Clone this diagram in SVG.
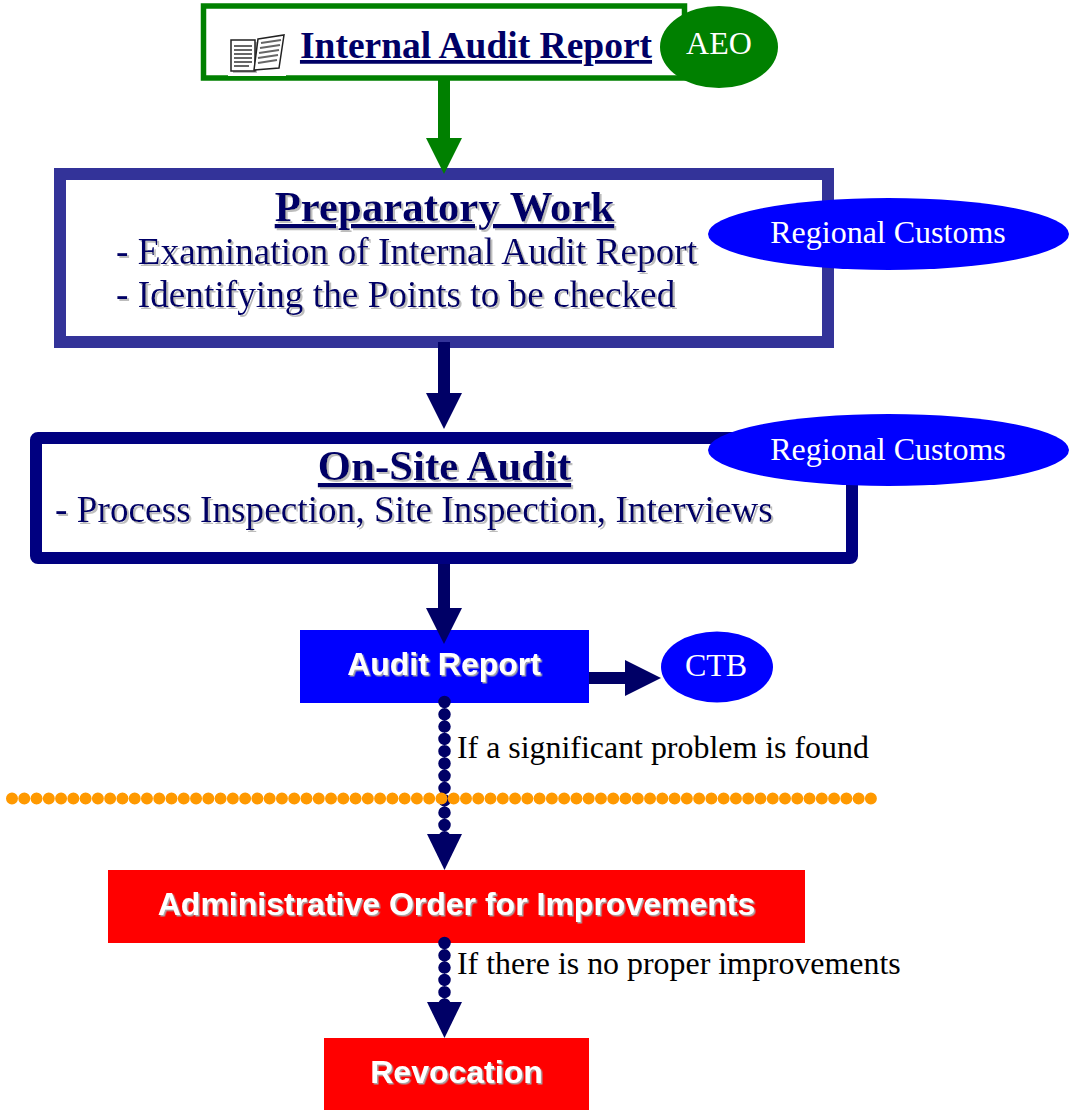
<svg xmlns="http://www.w3.org/2000/svg" width="1070" height="1110" viewBox="0 0 1070 1110">
<defs>
<filter id="shadow" x="-5%" y="-20%" width="110%" height="140%"><feDropShadow dx="2" dy="2" stdDeviation="0.5" flood-color="#bdbdbd" flood-opacity="1"/></filter>
<filter id="glow" x="-5%" y="-20%" width="110%" height="140%"><feDropShadow dx="1.500" dy="1.500" stdDeviation="0.5" flood-color="#a8a8a8" flood-opacity="1"/></filter>
<marker id="headGreen" markerUnits="userSpaceOnUse" markerWidth="36" markerHeight="36" refX="0" refY="18" orient="auto"><path d="M0 0L36 18L0 36Z" fill="#008000"/></marker>
<marker id="headNavy" markerUnits="userSpaceOnUse" markerWidth="37" markerHeight="36" refX="0" refY="18" orient="auto"><path d="M0 0L36 18L0 36Z" fill="#000066"/></marker>
</defs>
<style>
text{font-family:"Liberation Serif","Times New Roman",serif}
.h{font-weight:700;font-size:42.800px;fill:#000066;text-anchor:middle;text-decoration:underline;filter:url(#shadow)}
.b{font-size:37.300px;fill:#000066;filter:url(#shadow)}
.w{font-size:32px;fill:#fff;text-anchor:middle}
.s{font-family:"Liberation Sans",Arial,sans-serif;font-weight:700;font-size:32px;fill:#fff;text-anchor:middle;filter:url(#glow)}
.l{font-size:31.900px;fill:#000}
.a{fill:none;stroke:#000066;stroke-width:12}
.d{fill:none;stroke:#000066;stroke-width:12.500;stroke-linecap:round;stroke-dasharray:0 12.3}
.i{fill:#fff;stroke:#222;stroke-width:1.500}
.r{stroke:#666;stroke-width:2}
</style>
<g id="internal-audit-report">
<rect x="203.500" y="6" width="481" height="72" fill="#fff" stroke="#008000" stroke-width="5.500"/>
<rect x="228" y="32" width="58" height="44" fill="#fff"/>
<path d="M233 42H257V73H233Z" fill="#bbb"/>
<path class="i" d="M231 40H255V71H231Z"/>
<path class="i" d="M258 39L284 35L279 68L254 70Z"/>
<path class="r" d="M234 46H252M234 50H252M234 54H252M234 58H252M234 62H252M234 66H249M261 43L281 40M260 48L280 45M259 53L279 50M258 58L278 55M258 63L277 60"/>
<text class="h" style="font-size:37.500px;filter:none" x="476" y="58">Internal Audit Report</text>
</g>
<g id="aeo">
<ellipse cx="719" cy="47" rx="59" ry="41" fill="#008000"/>
<text class="w" x="719" y="54">AEO</text>
</g>
<g id="preparatory-work">
<rect x="60" y="174" width="768" height="168" fill="#fff" stroke="#333399" stroke-width="12"/>
<text class="h" x="444.500" y="221">Preparatory Work</text>
<text class="b" x="116" y="264">- Examination of Internal Audit Report</text>
<text class="b" x="116" y="307">- Identifying the Points to be checked</text>
</g>
<g id="regional-customs-1">
<ellipse cx="888.500" cy="234" rx="180.500" ry="36" fill="#0000ff"/>
<text class="w" x="888" y="243">Regional Customs</text>
</g>
<g id="on-site-audit">
<rect x="36" y="438" width="816" height="120" rx="2" fill="#fff" stroke="#000080" stroke-width="12" stroke-linejoin="round"/>
<text class="h" x="444.500" y="480">On-Site Audit</text>
<text class="b" x="55" y="522">- Process Inspection, Site Inspection, Interviews</text>
</g>
<g id="regional-customs-2">
<ellipse cx="888.500" cy="450" rx="180.500" ry="36" fill="#0000ff"/>
<text class="w" x="888" y="460">Regional Customs</text>
</g>
<g id="audit-report">
<rect x="300" y="630" width="289" height="73" fill="#0000ff"/>
<text class="s" x="444" y="675">Audit Report</text>
</g>
<g id="ctb">
<ellipse cx="717" cy="667" rx="56" ry="35.500" fill="#0000ff"/>
<text class="w" x="716" y="676">CTB</text>
</g>
<text class="l" x="457" y="758">If a significant problem is found</text>
<g id="administrative-order">
<rect x="108" y="870" width="697" height="73" fill="#ff0000"/>
<text class="s" x="456.500" y="915">Administrative Order for Improvements</text>
</g>
<text class="l" x="457" y="974">If there is no proper improvements</text>
<g id="revocation">
<rect x="324" y="1038" width="265" height="72" fill="#ff0000"/>
<text class="s" x="456.500" y="1083">Revocation</text>
</g>
<g id="connectors">
<path d="M444 80V138" fill="none" stroke="#008000" stroke-width="12" marker-end="url(#headGreen)"/>
<path class="a" d="M444 342V393" marker-end="url(#headNavy)"/>
<path class="a" d="M444 564V608" marker-end="url(#headNavy)"/>
<path class="a" d="M589 678H625" marker-end="url(#headNavy)"/>
<path class="d" d="M444.500 702V838"/>
<path d="M427 834H462L444.500 870Z" fill="#000066"/>
<path class="d" d="M444.500 943V1006"/>
<path d="M427 1002H462L444.500 1038Z" fill="#000066"/>
<path d="M12 798.500H872" fill="none" stroke="#ff9900" stroke-width="12" stroke-linecap="round" stroke-dasharray="0 12.27"/>
</g>
</svg>
